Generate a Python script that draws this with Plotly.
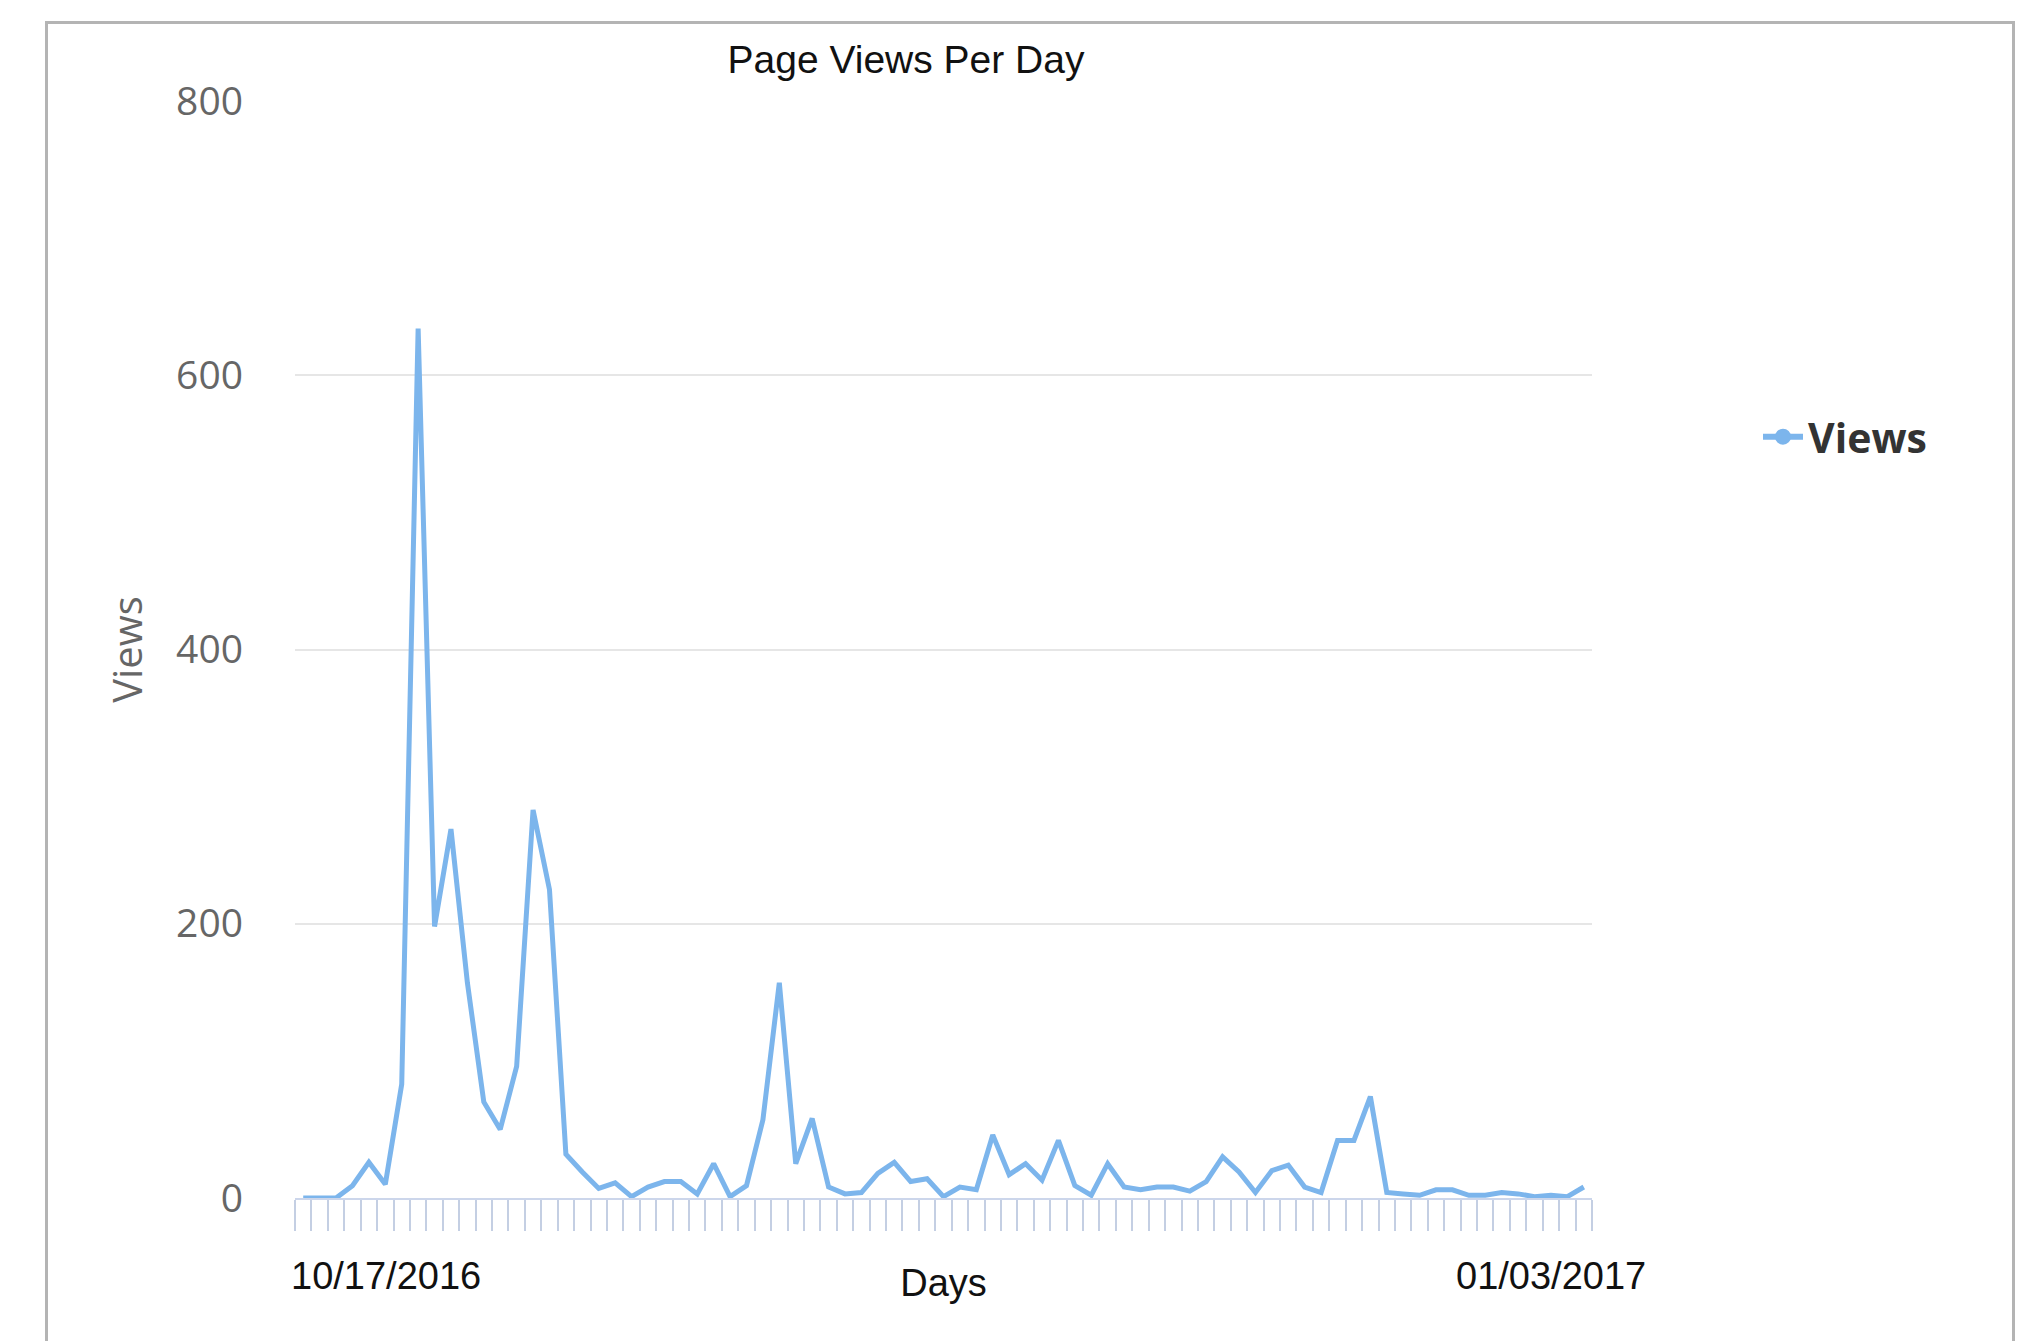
import pandas as pd
import plotly.graph_objects as go

# ---- data ----
start_date = "2016-10-17"
end_date = "2017-01-03"
days = pd.date_range(start_date, end_date, freq="D")
views = [0, 0, 0, 9, 26, 10, 83, 634, 198, 269,
         157, 70, 50, 96, 283, 225, 32, 19, 7, 11,
         1, 8, 12, 12, 3, 25, 1, 9, 57, 157,
         25, 58, 8, 3, 4, 18, 26, 12, 14, 1,
         8, 6, 46, 17, 25, 13, 42, 9, 2, 25,
         8, 6, 8, 8, 5, 12, 30, 19, 4, 20,
         24, 8, 4, 42, 42, 74, 4, 3, 2, 6,
         6, 2, 2, 4, 3, 1, 2, 1, 8]
y_ticks = [0, 200, 400, 600, 800]
first_label = "10/17/2016"
last_label = "01/03/2017"
series_name = "Views"
chart_title = "Page Views Per Day"
x_title = "Days"
y_title = "Views"

line_color = "#7cb5ec"
half_day = pd.Timedelta(hours=12)

fig = go.Figure()
fig.add_trace(go.Scatter(
    x=days, y=views, mode="lines", name=series_name,
    line=dict(color=line_color, width=5), showlegend=False,
))
# legend-only entry (line + marker, as in the reference legend)
fig.add_trace(go.Scatter(
    x=[None], y=[None], mode="lines+markers", name=series_name,
    line=dict(color=line_color, width=6),
    marker=dict(color=line_color, size=26),
))

fig.update_layout(
    width=2026, height=1341,
    margin=dict(l=295, r=434, t=101, b=143),
    paper_bgcolor="white", plot_bgcolor="white",
    title=dict(text=chart_title, x=906 / 2026, xanchor="center",
               y=1 - 59 / 1341, yanchor="middle",
               font=dict(family="Liberation Sans, Arial", size=39, color="#111111")),
    showlegend=True,
    legend=dict(xref="container", yref="container",
                x=1758 / 2026, xanchor="left", y=1 - 437 / 1341, yanchor="middle",
                font=dict(family="Open Sans", size=41, color="#333333", weight="bold"),
                bgcolor="rgba(0,0,0,0)", itemwidth=40),
    font=dict(family="Open Sans"),
)

fig.update_xaxes(
    type="date",
    range=[days[0] - half_day, days[-1] + half_day],
    tick0=days[0] - half_day, dtick=86400000,
    showticklabels=False, showgrid=False, zeroline=False,
    showline=True, linecolor="#ccd6eb", linewidth=2,
    ticks="outside", ticklen=31, tickwidth=2, tickcolor="#c4cfe3",
    title=dict(text=x_title, standoff=39,
               font=dict(family="Liberation Sans, Arial", size=38, color="#111111")),
)
fig.update_yaxes(
    range=[0, 800], tickvals=y_ticks,
    showgrid=True, gridcolor="#e6e6e6", gridwidth=2,
    zeroline=False, showline=False, ticks="",
    ticklabelstandoff=51,
    tickfont=dict(family="Open Sans", size=39, color="#666666"),
    title=dict(text=y_title, standoff=21,
               font=dict(family="Open Sans", size=40, color="#666666")),
)

# date labels at the two ends of the axis
fig.add_annotation(x=days[0], xref="x", y=0, yref="paper",
                   text=first_label, showarrow=False, xanchor="left", yanchor="middle",
                   xshift=-14, yshift=-78,
                   font=dict(family="Liberation Sans, Arial", size=38, color="#111111"))
fig.add_annotation(x=days[-1], xref="x", y=0, yref="paper",
                   text=last_label, showarrow=False, xanchor="right", yanchor="middle",
                   xshift=64, yshift=-78,
                   font=dict(family="Liberation Sans, Arial", size=38, color="#111111"))

# outer frame around the chart container
fig.add_shape(type="rect", xref="paper", yref="paper",
              x0=(46.5 - 295) / 1297, x1=(2013.5 - 295) / 1297,
              y0=(1198 - 1360) / 1097, y1=(1198 - 22.5) / 1097,
              line=dict(color="#b4b4b4", width=3), fillcolor="rgba(0,0,0,0)",
              layer="below")

fig.write_html("out.html",
               config={"displayModeBar": False},
               post_script="document.body.style.margin='0';document.body.style.overflow='hidden';")
